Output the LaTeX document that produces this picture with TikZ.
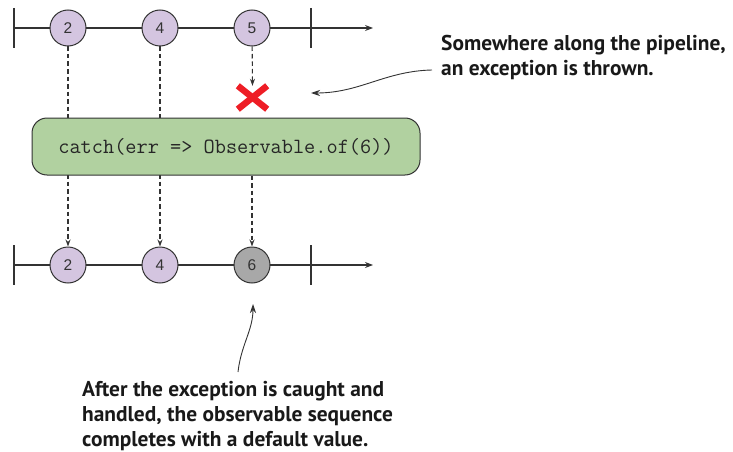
\documentclass[tikz,border=0pt]{standalone}
\usepackage{fontspec}
\setmainfont{Liberation Sans}
\newfontfamily\notefont{PT Sans}
\usetikzlibrary{arrows.meta}
\definecolor{lineC}{HTML}{333333}
\definecolor{purpleC}{HTML}{D4C5E0}
\definecolor{grayC}{HTML}{A8A8A8}
\definecolor{greenC}{HTML}{B1D1A0}
\definecolor{redC}{HTML}{EE1D25}
\tikzset{
  marble/.style={circle, draw=lineC, line width=1pt, minimum size=36pt, inner sep=0pt, fill=purpleC, font=\fontsize{15.5}{15.5}\selectfont, text=lineC},
  axis/.style={draw=lineC, line width=1.1pt, -{Stealth[length=8pt,width=6pt]}},
  tickmark/.style={draw=lineC, line width=1.4pt},
  flow/.style={draw=lineC, line width=1.1pt, dash pattern=on 4.5pt off 3pt, -{Stealth[length=7pt,width=5pt]}},
  opbox/.style={draw=lineC, line width=1pt, fill=greenC, rounded corners=15pt, minimum width=388pt, minimum height=57pt, font=\ttfamily\fontsize{21.7}{21.7}\selectfont, text=black!85},
  note/.style={font=\notefont\bfseries\fontsize{21.4}{25}\selectfont, text=black!90, align=left, inner sep=0pt},
  pointer/.style={draw=lineC, line width=0.9pt, -{Stealth[length=9pt,width=6pt]}}
}
\begin{document}
\begin{tikzpicture}[x=1pt,y=-1pt]
\useasboundingbox (0,0) rectangle (733,452);
% top timeline
\coordinate (tl) at (14,28);
\coordinate (tr) at (373,28);
\draw[axis] (tl) -- (tr);
\draw[tickmark] (14,8) -- (14,48);
\draw[tickmark] (311,8) -- (311,48);
\node[marble] (t1) at (68,28) {2};
\node[marble] (t2) at (160,28) {4};
\node[marble] (t3) at (252,28) {5};
% bottom timeline
\coordinate (bl) at (14,265);
\coordinate (br) at (373,265);
\draw[axis] (bl) -- (br);
\draw[tickmark] (14,245) -- (14,285);
\draw[tickmark] (311,245) -- (311,285);
\node[marble] (b1) at (68,265) {2};
\node[marble] (b2) at (160,265) {4};
\node[marble, fill=grayC] (b3) at (252,265) {6};
% flows behind box
\draw[flow] (t1) -- (b1);
\draw[flow] (t2) -- (b2);
% operator box
\node[opbox] (op) at (226,146.5) {catch(err => Observable.of(6))};
% error
\node[minimum width=29pt, minimum height=23pt, inner sep=0pt] (err) at (252.5,97.5) {};
\draw[redC, line width=6.5pt] (err.north west) -- (err.south east);
\draw[redC, line width=6.5pt] (err.north east) -- (err.south west);
\draw[flow] (t3) -- (err.north);
\draw[flow] (b3 |- op.south) -- (b3);
% notes
\node[note, anchor=north west] (n1) at (441,35.3) {Somewhere along the pipeline,\\an exception is thrown.};
\node[note, anchor=north west] (n2) at (82,381) {After the exception is caught and\\handled, the observable sequence\\completes with a default value.};
\coordinate (n1s) at (432,70);
\coordinate (n1e) at (311,93);
\draw[pointer] (n1s) .. controls (385,71) and (360,93) .. (n1e);
\coordinate (n2s) at (238,372);
\coordinate (n2e) at (253,304);
\draw[pointer] (n2s) .. controls (241,345) and (253,330) .. (n2e);
\end{tikzpicture}
\end{document}
